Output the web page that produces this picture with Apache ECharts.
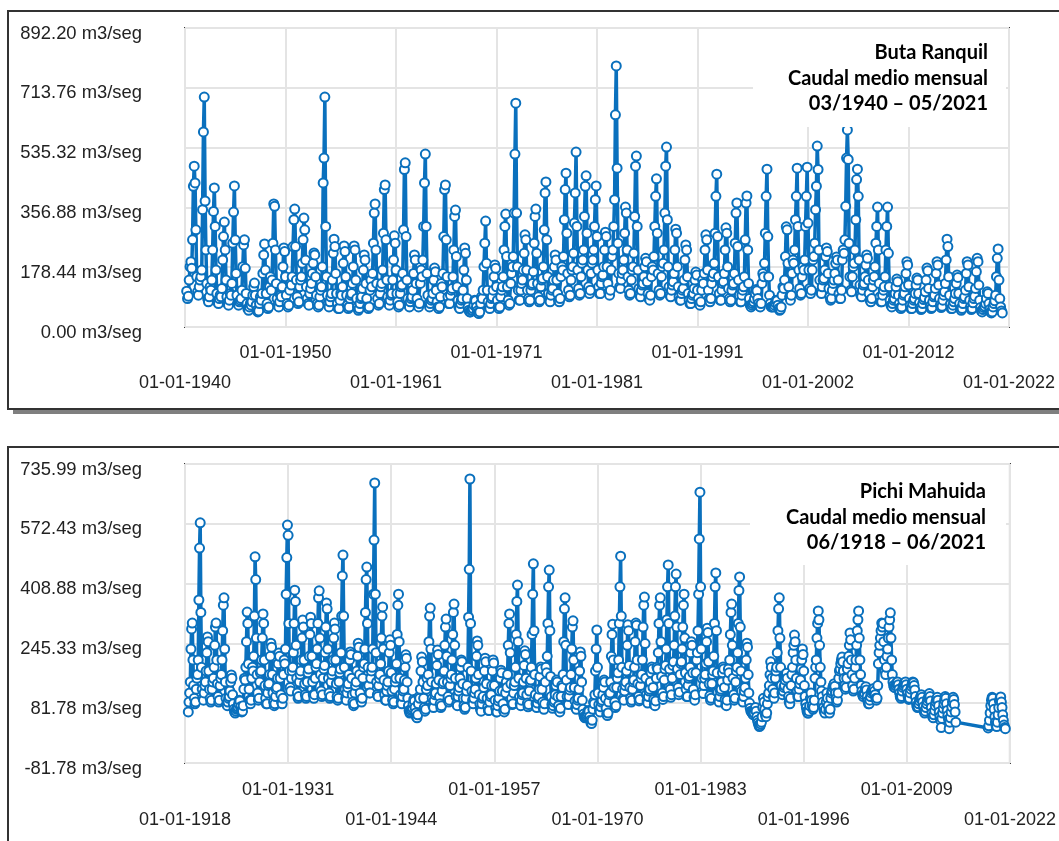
<!DOCTYPE html>
<html>
<head>
<meta charset="utf-8">
<script src="https://cdn.jsdelivr.net/npm/echarts@6/dist/echarts.min.js"></script>
<style>
  html, body { margin: 0; padding: 0; background: #fff; }
  #main { width: 1059px; height: 841px; }
</style>
</head>
<body>
<div id="main"></div>
<script>
// caudal medio mensual (m3/seg)
var butaStart = [1940, 3];
var butaRanquil = [
  107, 85, 92, 140, 180, 195, 175, 260, 420, 480,
  430, 290, 150, 105, 95, 120, 140, 150, 170, 350, 582, 686,
  376, 230, 130, 85, 75, 90, 120, 110, 140, 230, 345, 415,
  300, 170, 100, 75, 70, 85, 95, 90, 115, 200, 270, 313,
  230, 140, 90, 70, 65, 80, 100, 95, 130, 250, 343, 421,
  260, 160, 95, 70, 65, 75, 80, 85, 110, 180, 245, 260,
  175, 100, 70, 55, 50, 60, 70, 65, 75, 95, 120, 131,
  95, 65, 50, 45, 48, 70, 90, 80, 100, 160, 215, 248,
  170, 100, 70, 55, 60, 120, 150, 110, 140, 250, 367, 360,
  230, 130, 85, 65, 60, 75, 95, 90, 120, 180, 236, 225,
  150, 95, 70, 60, 65, 110, 130, 125, 150, 240, 320, 352,
  240, 140, 90, 70, 75, 120, 140, 150, 190, 260, 325, 290,
  200, 120, 85, 70, 65, 100, 115, 130, 160, 190, 221, 215,
  150, 95, 70, 60, 65, 90, 110, 120, 180, 430, 504, 686,
  300, 150, 95, 70, 60, 75, 90, 100, 140, 220, 262, 240,
  160, 100, 70, 55, 55, 80, 100, 95, 120, 190, 242, 225,
  150, 95, 65, 55, 60, 85, 95, 100, 130, 180, 242, 230,
  140, 85, 60, 50, 55, 70, 85, 90, 115, 170, 215, 200,
  130, 85, 60, 55, 60, 110, 140, 120, 160, 250, 340, 367,
  230, 130, 85, 65, 70, 100, 120, 130, 170, 280, 410, 424,
  260, 140, 90, 70, 65, 80, 95, 100, 140, 200, 272, 250,
  170, 100, 75, 60, 65, 100, 120, 125, 160, 290, 470, 490,
  270, 140, 85, 65, 60, 75, 85, 90, 110, 160, 215, 200,
  130, 85, 65, 60, 70, 130, 170, 150, 200, 300, 430, 516,
  300, 160, 95, 70, 60, 70, 80, 85, 100, 140, 176, 165,
  110, 75, 60, 55, 60, 90, 130, 120, 160, 270, 410, 424,
  260, 150, 90, 70, 70, 95, 110, 115, 150, 230, 330, 349,
  210, 120, 80, 60, 55, 70, 80, 85, 110, 170, 236, 220,
  140, 85, 60, 50, 45, 45, 50, 50, 55, 65, 80, 78,
  60, 48, 42, 40, 45, 70, 90, 85, 110, 180, 250, 316,
  190, 110, 75, 60, 55, 70, 85, 90, 110, 150, 185, 175,
  120, 80, 60, 55, 60, 90, 110, 120, 150, 230, 300, 337,
  210, 120, 80, 65, 70, 130, 160, 180, 210, 340, 516, 668,
  340, 180, 110, 80, 80, 110, 130, 140, 170, 220, 275, 260,
  170, 110, 85, 75, 80, 110, 125, 130, 165, 250, 330, 352,
  220, 130, 90, 75, 80, 120, 140, 145, 180, 290, 400, 433,
  260, 150, 100, 80, 75, 95, 110, 115, 140, 180, 215, 200,
  140, 100, 80, 75, 85, 150, 180, 170, 210, 320, 410, 459,
  280, 160, 110, 90, 95, 140, 170, 180, 220, 310, 400, 522,
  300, 170, 115, 95, 100, 150, 190, 200, 230, 330, 420, 451,
  280, 170, 120, 100, 110, 160, 190, 200, 230, 300, 380, 421,
  270, 170, 120, 100, 100, 130, 150, 155, 180, 230, 283, 270,
  180, 130, 105, 95, 110, 170, 210, 230, 300, 380, 633, 779,
  474, 250, 160, 120, 115, 140, 160, 170, 200, 280, 358, 340,
  230, 150, 110, 95, 100, 140, 170, 180, 220, 330, 480, 510,
  300, 170, 115, 95, 90, 110, 125, 130, 150, 180, 205, 195,
  135, 100, 85, 80, 95, 150, 180, 170, 210, 300, 390, 442,
  280, 160, 110, 95, 100, 150, 180, 190, 230, 340, 480, 537,
  320, 180, 120, 95, 90, 110, 125, 135, 160, 230, 292, 280,
  180, 120, 90, 80, 80, 100, 110, 115, 140, 200, 245, 230,
  150, 100, 80, 70, 70, 85, 95, 100, 115, 140, 164, 155,
  110, 85, 70, 65, 75, 110, 140, 130, 160, 230, 275, 260,
  170, 110, 85, 75, 85, 130, 150, 160, 190, 280, 390, 456,
  270, 150, 100, 80, 80, 110, 130, 135, 160, 230, 296, 280,
  180, 115, 85, 75, 80, 110, 125, 130, 160, 250, 340, 370,
  240, 140, 95, 75, 75, 95, 110, 120, 150, 260, 370, 391,
  230, 130, 85, 65, 60, 65, 70, 75, 85, 100, 112, 108,
  85, 70, 62, 60, 70, 130, 160, 150, 190, 280, 390, 471,
  270, 150, 95, 70, 60, 60, 62, 60, 65, 72, 80, 78,
  65, 55, 50, 52, 60, 95, 120, 115, 140, 210, 299, 290,
  190, 120, 90, 80, 95, 160, 200, 190, 230, 320, 390, 474,
  300, 170, 115, 95, 100, 150, 180, 170, 200, 300, 390, 477,
  310, 170, 115, 100, 110, 170, 200, 210, 250, 350, 420, 540,
  470, 230, 140, 105, 100, 120, 140, 145, 170, 210, 236, 225,
  160, 115, 90, 80, 85, 110, 130, 140, 160, 190, 209, 200,
  140, 100, 85, 85, 110, 200, 230, 220, 260, 360, 504, 588,
  500, 250, 150, 110, 105, 150, 180, 190, 230, 320, 440, 471,
  390, 200, 125, 95, 90, 110, 125, 130, 150, 185, 215, 205,
  140, 100, 80, 75, 85, 120, 140, 150, 180, 250, 300, 358,
  230, 130, 90, 75, 75, 95, 110, 120, 150, 230, 300, 358,
  220, 120, 80, 65, 60, 70, 80, 85, 100, 120, 143, 135,
  95, 70, 58, 55, 60, 80, 95, 100, 120, 160, 195, 185,
  125, 85, 65, 55, 55, 70, 80, 85, 100, 125, 146, 140,
  100, 72, 58, 52, 55, 70, 82, 88, 105, 140, 176, 168,
  115, 80, 62, 55, 58, 75, 90, 95, 115, 160, 195, 185,
  125, 85, 65, 58, 62, 80, 95, 105, 130, 200, 262, 240,
  150, 95, 68, 55, 55, 65, 75, 85, 100, 130, 155, 148,
  100, 70, 55, 50, 55, 70, 85, 90, 110, 160, 195, 185,
  120, 80, 60, 52, 55, 72, 85, 92, 115, 165, 205, 195,
  125, 80, 58, 48, 45, 52, 58, 62, 70, 85, 105, 100,
  70, 52, 45, 42, 45, 60, 70, 78, 95, 150, 205, 233,
  140, 85, 60, 48, 42
];

var pichiStart1 = [1918, 6];
var pichiMahuida1 = [
  58, 85, 110, 140, 230, 285, 301,
  200, 130, 95, 80, 85, 120, 150, 160, 200, 364, 506, 575,
  330, 180, 120, 95, 90, 110, 130, 140, 170, 220, 263, 250,
  170, 120, 95, 85, 90, 120, 140, 150, 180, 240, 290, 301,
  200, 135, 100, 85, 90, 130, 150, 160, 200, 280, 350, 370,
  230, 140, 95, 80, 75, 85, 95, 100, 115, 140, 159, 150,
  105, 80, 65, 58, 55, 60, 65, 68, 72, 80, 90, 88,
  72, 62, 58, 60, 75, 120, 150, 145, 180, 250, 331, 300,
  190, 120, 90, 80, 90, 150, 180, 170, 210, 320, 482, 420,
  260, 160, 110, 90, 95, 140, 165, 170, 200, 260, 326, 300,
  200, 130, 95, 80, 80, 110, 130, 135, 160, 210, 246, 235,
  160, 110, 85, 75, 80, 100, 120, 125, 150, 190, 219, 210,
  150, 105, 85, 80, 95, 160, 200, 190, 230, 380, 480, 569,
  541, 300, 170, 125, 115, 150, 170, 180, 220, 300, 391, 360,
  240, 150, 110, 95, 100, 140, 160, 170, 200, 260, 309, 290,
  200, 135, 105, 95, 100, 140, 165, 175, 210, 270, 317, 300,
  210, 140, 105, 95, 105, 150, 180, 190, 230, 300, 370, 389,
  260, 160, 115, 100, 105, 150, 175, 185, 220, 290, 356, 340,
  230, 150, 110, 95, 100, 140, 160, 170, 200, 260, 301, 285,
  200, 135, 100, 90, 95, 140, 165, 175, 220, 320, 430, 487,
  320, 180, 120, 95, 90, 110, 125, 135, 160, 200, 222, 215,
  150, 105, 85, 75, 80, 110, 130, 140, 170, 210, 246, 235,
  160, 110, 90, 85, 95, 150, 180, 190, 230, 330, 420, 454,
  300, 180, 130, 110, 110, 150, 170, 180, 230, 380, 528, 684,
  380, 220, 140, 105, 100, 130, 150, 160, 190, 260, 320, 345,
  230, 145, 105, 90, 90, 115, 130, 140, 170, 220, 255, 240,
  165, 115, 90, 80, 85, 120, 140, 150, 190, 270, 350, 380,
  250, 150, 105, 85, 80, 100, 115, 120, 145, 180, 214, 205,
  140, 95, 75, 62, 55, 58, 62, 65, 70, 80, 92, 88,
  70, 55, 45, 42, 50, 80, 100, 95, 120, 170, 208, 195,
  140, 95, 70, 60, 65, 120, 150, 130, 160, 250, 320, 342,
  230, 140, 95, 75, 70, 90, 105, 110, 135, 185, 227, 215,
  145, 100, 80, 70, 75, 115, 135, 140, 170, 240, 290, 312,
  210, 140, 100, 85, 90, 130, 150, 160, 200, 270, 330, 353,
  240, 150, 100, 80, 75, 100, 115, 125, 150, 180, 200, 195,
  135, 95, 75, 65, 70, 95, 115, 130, 180, 317, 448, 695,
  300, 170, 115, 90, 80, 95, 110, 120, 150, 210, 252, 240,
  160, 105, 80, 65, 60, 80, 95, 100, 125, 170, 205, 195,
  135, 95, 72, 62, 62, 85, 100, 105, 130, 170, 200, 192,
  130, 90, 68, 58, 58, 75, 88, 95, 115, 150, 172, 165,
  115, 80, 62, 58, 65, 110, 140, 125, 160, 240, 300, 326,
  220, 135, 95, 78, 80, 110, 130, 140, 180, 270, 360, 405,
  250, 150, 100, 80, 75, 90, 105, 110, 140, 185, 225, 215,
  150, 105, 82, 72, 78, 115, 140, 145, 180, 270, 380, 463,
  280, 160, 105, 80, 70, 82, 95, 100, 120, 155, 181, 175,
  120, 85, 68, 65, 80, 140, 180, 165, 210, 300, 400, 446,
  280, 155, 100, 78, 68, 75, 85, 90, 105, 130, 145, 140,
  100, 75, 62, 58, 68, 100, 130, 125, 160, 250, 340, 370,
  240, 145, 100, 80, 78, 100, 118, 125, 160, 230, 290, 307,
  200, 125, 88, 70, 65, 78, 90, 95, 120, 170, 222, 210,
  140, 90, 65, 52, 45, 42, 45, 46, 50, 55, 62, 60,
  45, 35, 28, 26, 35, 65, 85, 80, 105, 170, 230, 282,
  180, 110, 78, 62, 58, 72, 85, 90, 105, 125, 145, 140,
  95, 68, 52, 48, 55, 85, 105, 110, 140, 210, 270, 298,
  200, 125, 85, 70, 75, 125, 150, 165, 200, 300, 400, 484,
  320, 180, 120, 95, 90, 115, 130, 140, 170, 240, 296, 280,
  185, 125, 95, 85, 90, 120, 140, 145, 180, 250, 301, 295,
  200, 135, 100, 88, 92, 130, 150, 160, 200, 290, 350, 372,
  245, 150, 105, 88, 82, 100, 115, 120, 140, 165, 181, 175,
  125, 92, 78, 75, 88, 150, 180, 175, 220, 300, 350, 370,
  250, 155, 110, 92, 100, 145, 175, 185, 230, 310, 400, 460,
  300, 175, 120, 98, 105, 150, 185, 195, 240, 320, 400, 435,
  290, 175, 125, 105, 112, 160, 190, 195, 230, 290, 350, 380,
  260, 165, 120, 100, 100, 130, 150, 155, 180, 220, 250, 240,
  165, 120, 98, 90, 105, 165, 200, 220, 280, 380, 531, 659,
  400, 230, 150, 115, 108, 130, 150, 160, 190, 250, 287, 275,
  195, 135, 102, 90, 95, 135, 160, 170, 210, 300, 400, 438,
  280, 165, 112, 90, 85, 100, 115, 120, 140, 165, 181, 175,
  125, 92, 78, 75, 90, 145, 175, 165, 200, 270, 330, 353,
  240, 150, 105, 90, 95, 140, 170, 180, 220, 300, 390, 427,
  290, 170, 115, 90, 85, 100, 115, 125, 150, 200, 246, 235,
  160, 110, 82, 68, 60, 58, 55, 52, 50, 55, 65, 70,
  60, 45, 35, 28, 22, 18, 20, 25, 30, 45, 70, 95,
  85, 65, 50, 45, 55, 80, 100, 110, 130, 160, 195, 180,
  150, 120, 100, 95, 110, 150, 170, 180, 220, 280, 340, 370,
  260, 180, 130, 110, 105, 115, 125, 130, 145, 155, 164, 150,
  120, 100, 85, 80, 95, 130, 160, 180, 220, 240, 268, 250,
  200, 150, 115, 100, 100, 120, 135, 145, 175, 200, 230, 215,
  170, 130, 100, 80, 70, 60, 55, 55, 60, 75, 95, 110,
  90, 75, 65, 70, 90, 150, 180, 200, 260, 300, 334, 310,
  240, 180, 140, 115, 100, 85, 70, 60, 55, 65, 85, 110,
  95, 75, 60, 55, 65, 95, 110, 115, 125, 130, 135, 128,
  110, 95, 85, 90, 110, 150, 170, 175, 190, 200, 208, 195,
  170, 150, 130, 120, 125, 150, 175, 190, 210, 240, 274, 255,
  200, 160, 130, 115, 120, 150, 180, 200, 240, 280, 310, 334,
  260, 200, 160, 130, 115, 105, 100, 105, 110, 120, 127, 118,
  100, 88, 80, 80, 90, 100, 110, 115, 118, 120, 122, 115,
  105, 95, 90, 95, 130, 190, 220, 240, 260, 280, 301, 290,
  300, 250, 200, 170, 160, 180, 210, 230, 260, 290, 310, 329,
  260, 200, 160, 140, 130, 125, 125, 130, 135, 138, 140, 132,
  120, 110, 100, 95, 100, 115, 125, 130, 135, 138, 140, 132,
  120, 108, 98, 92, 95, 110, 120, 128, 135, 140, 138, 130,
  118, 100, 85, 75, 70, 72, 80, 88, 95, 100, 105, 98,
  85, 72, 60, 55, 60, 70, 80, 88, 95, 100, 108, 100,
  88, 70, 55, 45, 42, 50, 62, 75, 85, 92, 98, 90,
  75, 58, 45, 35, 15, 40, 55, 68, 80, 90, 100, 95,
  80, 62, 48, 38, 12, 30, 42, 58, 72, 85, 98, 92,
  78, 58, 30
];

var pichiStart2 = [2019, 4];
var pichiMahuida2 = [
  14, 20, 35, 55, 75, 90, 98, 95, 80,
  65, 45, 30, 20, 18, 30, 50, 70, 88, 95, 99, 85,
  70, 50, 35, 22, 15, 12
];

// ejes
var butaXTicks = [1940, 1950, 1961, 1971, 1981, 1991, 2002, 2012, 2022];
var butaXUpper = [1950, 1971, 1991, 2012];
var butaXLower = [1940, 1961, 1981, 2002, 2022];
var butaYTicks = [0, 178.44, 356.88, 535.32, 713.76, 892.20];

var pichiXTicks = [1918, 1931, 1944, 1957, 1970, 1983, 1996, 2009, 2022];
var pichiXUpper = [1931, 1957, 1983, 2009];
var pichiXLower = [1918, 1944, 1970, 1996, 2022];
var pichiYTicks = [-81.78, 81.78, 245.33, 408.88, 572.43, 735.99];

var titulo1 = ['Buta Ranquil', 'Caudal medio mensual', '03/1940 \u2013 05/2021'];
var titulo2 = ['Pichi Mahuida', 'Caudal medio mensual', '06/1918 \u2013 06/2021'];

var AZUL = '#0a70bd';
var FUENTE = 'Liberation Sans, Arial, sans-serif';

// fecha decimal (01-01-AAAA = AAAA) para cada mes
function mensual(inicio, valores) {
  var out = [];
  for (var i = 0; i < valores.length; i++) {
    out.push([inicio[0] + (inicio[1] - 1 + i) / 12, valores[i]]);
  }
  return out;
}

var butaData = mensual(butaStart, butaRanquil);
var pichiData = mensual(pichiStart1, pichiMahuida1).concat(mensual(pichiStart2, pichiMahuida2));

var fmtFecha = function (v) { return '01-01-' + Math.round(v); };
var fmtCaudal = function (v) { return v.toFixed(2) + ' m3/seg'; };

function ejeX(grid, min, max, ticks, labels, margin, split) {
  return {
    gridIndex: grid, type: 'value', min: min, max: max, position: 'bottom',
    axisLine: { show: false },
    axisTick: { show: false, customValues: ticks },
    splitLine: { show: split, lineStyle: { color: '#e4e4e4', width: 2 } },
    axisLabel: {
      customValues: labels, formatter: fmtFecha, margin: margin,
      fontSize: 18, color: '#222', fontFamily: FUENTE
    }
  };
}

function ejeY(grid, min, max, ticks) {
  return {
    gridIndex: grid, type: 'value', min: min, max: max,
    axisLine: { show: false },
    axisTick: { show: false, customValues: ticks },
    splitLine: { show: true, lineStyle: { color: '#e4e4e4', width: 2 } },
    axisLabel: {
      customValues: ticks, formatter: fmtCaudal, margin: 43,
      verticalAlign: 'top', lineHeight: 11,
      fontSize: 18.4, color: '#222', fontFamily: FUENTE
    }
  };
}

function serie(idx, data) {
  return {
    type: 'line', xAxisIndex: idx * 2, yAxisIndex: idx, data: data,
    symbol: 'circle', symbolSize: 9, showAllSymbol: true,
    lineStyle: { color: AZUL, width: 3.5 },
    itemStyle: { color: '#fff', borderColor: AZUL, borderWidth: 2 },
    silent: true
  };
}

function cuadroTitulo(x, y, w, h, right, y0, lines) {
  var els = [{
    type: 'rect', z: 50, shape: { x: x, y: y, width: w, height: h },
    style: { fill: '#fff' }
  }];
  for (var i = 0; i < lines.length; i++) {
    els.push({
      type: 'text', z: 51,
      style: {
        text: lines[i], x: right, y: y0 + i * 25.5,
        align: 'right', verticalAlign: 'middle',
        fill: '#000', fontSize: 20, fontWeight: 'bold', fontFamily: 'Lato'
      }
    });
  }
  return els;
}

function marco(y, h) {
  return [
    { type: 'rect', z: -12, shape: { x: 13, y: y + 5, width: 1100, height: h },
      style: { fill: '#7f7f7f' } },
    { type: 'rect', z: -11, shape: { x: 8, y: y, width: 1100, height: h },
      style: { fill: '#fff', stroke: '#333', lineWidth: 2 } }
  ];
}

var chart = echarts.init(document.getElementById('main'));
chart.setOption({
  backgroundColor: '#fff',
  animation: false,
  grid: [
    { left: 185, top: 28, width: 824, height: 299, show: true, borderColor: '#3a3a3a', borderWidth: 2 },
    { left: 185, top: 464, width: 827, height: 299, show: true, borderColor: '#3a3a3a', borderWidth: 2 }
  ],
  xAxis: [
    ejeX(0, 1940, 2022, butaXTicks, butaXUpper, 17, true),
    ejeX(0, 1940, 2022, butaXTicks, butaXLower, 47, false),
    ejeX(1, 1918, 2022, pichiXTicks, pichiXUpper, 18, true),
    ejeX(1, 1918, 2022, pichiXTicks, pichiXLower, 48, false)
  ],
  yAxis: [
    ejeY(0, 0, 892.2, butaYTicks),
    ejeY(1, -81.78, 735.99, pichiYTicks)
  ],
  series: [
    serie(0, butaData),
    serie(1, pichiData)
  ],
  graphic: [].concat(
    marco(11, 398),
    marco(447, 500),
    cuadroTitulo(753, 29, 253, 98, 988, 53, titulo1),
    cuadroTitulo(750, 465, 256, 100, 986, 492, titulo2)
  )
});
</script>
</body>
</html>
